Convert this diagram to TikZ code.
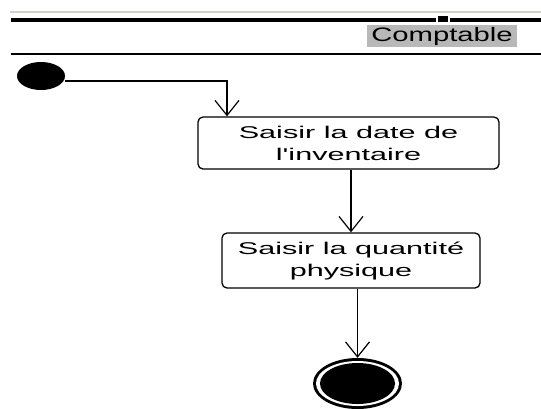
\documentclass[tikz,border=0pt]{standalone}
\usepackage{fontspec}
\usetikzlibrary{arrows.meta,shapes.geometric}
\newfontfamily\boxfont[FakeStretch=1.8]{Liberation Sans}
\newfontfamily\lanefont[FakeStretch=1.5]{Liberation Sans}
\definecolor{lanegray}{HTML}{B8B8B8}
\definecolor{paleline}{HTML}{D4D0C8}
\tikzset{
  activity/.style={draw=black, line width=1.3pt, rounded corners=5pt, inner sep=0pt,
    align=center, font=\boxfont\fontsize{17}{22}\selectfont},
  flow/.style={draw=black, line width=1.3pt, -{Straight Barb[length=15pt,width=24pt,line width=1.2pt]}},
}
\begin{document}
\begin{tikzpicture}[x=1pt,y=-1pt]
\useasboundingbox (0,0) rectangle (541,408);
% swimlane header
\draw[paleline, line width=1.5pt] (10,12) -- (541,12);
\draw[black, line width=4pt] (11,20) -- (436,20);
\fill[black] (438,16) rectangle (448,22);
\draw[black, line width=4pt] (450,20) -- (541,20);
\node[fill=lanegray, inner sep=0pt, minimum width=150pt, minimum height=22pt,
  font=\lanefont\fontsize{19.5}{22}\selectfont] (lane) at (442,36) {Comptable};
\draw[black, line width=2.5pt] (11,54) -- (541,54);
% initial state
\node[fill=black, ellipse, minimum width=48pt, minimum height=28pt, inner sep=0pt] (init) at (41,76) {};
% activities
\node[activity, minimum width=301pt, minimum height=52pt] (b1) at (348.5,143) {Saisir la date de\\l'inventaire};
\node[activity, minimum width=258pt, minimum height=55pt] (b2) at (351,260.5) {Saisir la quantité\\physique};
% final state
\node[fill=black, ellipse, minimum width=89pt, minimum height=51pt, inner sep=0pt] (fin) at (357.5,383.5) {};
\fill[white] (fin.center) ellipse [x radius=41.5pt, y radius=22.5pt];
\fill[black] (fin.center) ellipse [x radius=37.5pt, y radius=20.5pt];
% flows
\coordinate (k) at (227,81);
\draw[flow] (init.east |- k) -- (k) -- (k |- b1.north);
\draw[flow] (b1.south -| b2.north) -- (b2.north);
\draw[flow] (b2.south -| fin.north) -- (fin.north);
\end{tikzpicture}
\end{document}
